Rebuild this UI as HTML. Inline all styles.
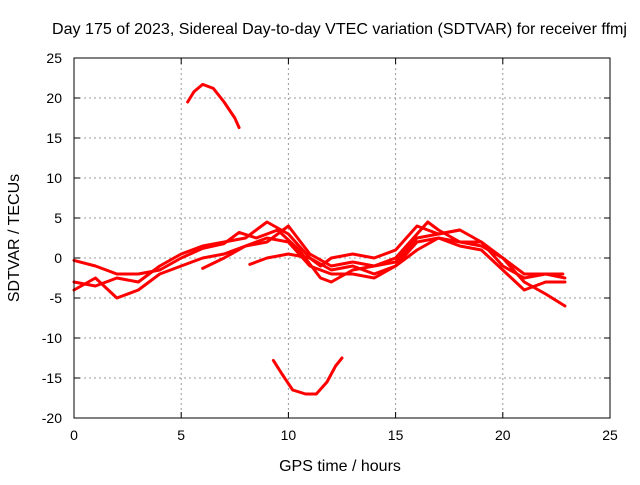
<!DOCTYPE html>
<html><head><meta charset="utf-8"><style>
body{margin:0;background:#fff}
svg text{font-family:"Liberation Sans",sans-serif;font-size:14px;fill:#000}
</style></head><body>
<svg id="chart" width="640" height="480">
<rect width="640" height="480" fill="#fff"/>
<text x="52" y="34" textLength="575" lengthAdjust="spacingAndGlyphs" style="font-size:16px">Day 175 of 2023, Sidereal Day-to-day VTEC variation (SDTVAR) for receiver ffmj</text>
<g id="grid"></g><g id="series"></g><g id="axes"></g>
<text x="340" y="471" text-anchor="middle" style="font-size:16px">GPS time / hours</text>
<text transform="translate(19,238) rotate(-90)" text-anchor="middle" style="font-size:16px">SDTVAR / TECUs</text>
</svg>
<script>
const xTicks=[0,5,10,15,20,25];
const yTicks=[25,20,15,10,5,0,-5,-10,-15,-20];
const traceTopX=[5.3,5.6,6,6.5,7,7.5,7.7];
const traceTopY=[19.5,20.8,21.7,21.2,19.5,17.5,16.3];
const traceBotX=[9.3,9.7,10.2,10.8,11.3,11.8,12.2,12.5];
const traceBotY=[-12.8,-14.5,-16.5,-17,-17,-15.5,-13.5,-12.5];
const traceAX=[0,1,2,3,4,5,6,7,7.7,8.5,9.5,10.5,11.5,12,13,14,15,16,16.5,17,18,19,20,21,22,22.9];
const traceAY=[-0.3,-1,-2,-2,-1.5,0,1.2,1.8,3.2,2.5,3.5,1,-2.5,-3,-1.5,-1,0,3,4.5,3.5,2,2,0,-3,-4.5,-6];
const traceBX=[0,1,2,3,4,5,6,7,8,9,10,11,12,13,14,15,16,17,18,19,20,21,22,22.9];
const traceBY=[-3,-3.5,-2.5,-3,-1,0.5,1.5,2,2.5,4.5,3,0,-1.5,-1,-2,-1,1,2.5,2,1.5,0,-2,-2,-2.5];
const traceCX=[0,1,2,3,4,5,6,7,8,9,10,11,12,13,14,15,16,17,18,19,20,21,22,22.9];
const traceCY=[-4,-2.5,-5,-4,-2,-1,0,0.5,1.5,2.5,2,-1,-2,-2,-2.5,-1,2,2.5,1.5,1,-1.5,-4,-3,-3];
const traceDX=[6,7,8,9,10,11,12,13,14,15,16,17,18];
const traceDY=[-1.3,0,1.5,2,4,0.5,-1,-0.5,-1,-0.5,2.5,3,3.5];
const traceEX=[8.2,9,10,11,11.5,12,13,14,15,16,17,18,19,20,21,22,22.8];
const traceEY=[-0.8,0,0.5,0,-1,0,0.5,0,1,4,3,3.5,2,-1,-2.5,-2,-2];
const L=74,R=610,T=58,B=418;
const sx=v=>L+(v-0)/25*(R-L);
const sy=v=>B-(v+20)/45*(B-T);
const NS="http://www.w3.org/2000/svg";
const grid=document.getElementById('grid'),axes=document.getElementById('axes'),ser=document.getElementById('series');
function mk(tag,attrs,parent){const e=document.createElementNS(NS,tag);for(const k in attrs)e.setAttribute(k,attrs[k]);parent.appendChild(e);return e;}
xTicks.forEach(t=>{
 if(t>0&&t<25){const g=mk('line',{x1:sx(t),x2:sx(t),y1:T,y2:B,stroke:'#999','stroke-dasharray':'2,3','stroke-width':1},grid);
 
 }
 const tx=mk('text',{x:sx(t),y:B+22,'text-anchor':'middle'},axes);tx.textContent=t;
 
 
 mk('line',{x1:sx(t),x2:sx(t),y1:B,y2:B-6,stroke:'#000'},axes);
 mk('line',{x1:sx(t),x2:sx(t),y1:T,y2:T+6,stroke:'#000'},axes);
});
yTicks.forEach(t=>{
 if(t>-20&&t<25){const g=mk('line',{x1:L,x2:R,y1:sy(t),y2:sy(t),stroke:'#999','stroke-dasharray':'2,3','stroke-width':1},grid);
 
 }
 const tx=mk('text',{x:L-12,y:sy(t)+5,'text-anchor':'end'},axes);tx.textContent=t;
 
 
 mk('line',{x1:L,x2:L+6,y1:sy(t),y2:sy(t),stroke:'#000'},axes);
 mk('line',{x1:R,x2:R-6,y1:sy(t),y2:sy(t),stroke:'#000'},axes);
});
const fr=mk('rect',{x:L,y:T,width:R-L,height:B-T,fill:'none',stroke:'#000'},axes);


const traces=[[traceTopX,traceTopY],[traceBotX,traceBotY],[traceAX,traceAY],[traceBX,traceBY],[traceCX,traceCY],[traceDX,traceDY],[traceEX,traceEY]];
traces.forEach(([xs,ys])=>{
 const p=mk('polyline',{points:xs.map((x,i)=>sx(x)+','+sy(ys[i])).join(' '),fill:'none',stroke:'#f00','stroke-width':3,'stroke-linejoin':'round','stroke-linecap':'round'},ser);
 
 
});
</script>
</body></html>
